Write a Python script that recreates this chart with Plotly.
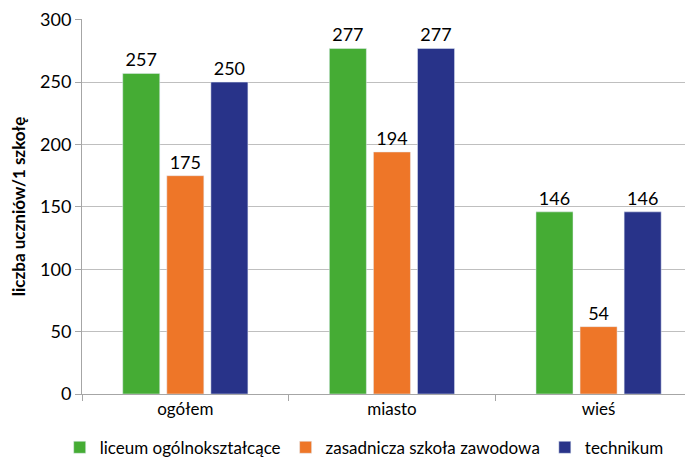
import plotly.graph_objects as go

categories = ["ogółem", "miasto", "wieś"]
liceum = [257, 277, 146]
zasadnicza = [175, 194, 54]
technikum = [250, 277, 146]
series_names = ["liceum ogólnokształcące", "zasadnicza szkoła zawodowa", "technikum"]
colors = ["#45AC34", "#EE7628", "#283389"]

FONT = "Lato, Open Sans, sans-serif"

fig = go.Figure()
for name, vals, col in zip(series_names, [liceum, zasadnicza, technikum], colors):
    fig.add_trace(go.Bar(
        x=categories, y=vals, name=name, marker_color=col,
        text=[str(v) for v in vals], textposition="outside",
        textfont=dict(size=18, color="#000000", family=FONT),
        cliponaxis=False,
    ))

fig.update_layout(
    width=685, height=451,
    margin=dict(l=74, r=0, t=11, b=65, autoexpand=False),
    paper_bgcolor="white", plot_bgcolor="white",
    barmode="group", bargap=0.36, bargroupgap=0.16,
    font=dict(family=FONT, size=17, color="#000000"),
    showlegend=True,
    legend=dict(orientation="h", xref="container", x=0.52, xanchor="center",
                yref="container", y=0.025, yanchor="middle",
                font=dict(size=17, family=FONT), itemwidth=30,
                tracegroupgap=0, traceorder="normal"),
    xaxis=dict(range=[-0.5, 2.457], showline=True, linecolor="#A6A6A6",
               ticks="outside", tickson="boundaries", ticklen=6, tickcolor="#A6A6A6",
               tickfont=dict(size=17, family=FONT), showgrid=False, automargin=False),
    yaxis=dict(range=[0, 300.6], tickvals=[0, 50, 100, 150, 200, 250, 300],
               showline=True, linecolor="#A6A6A6",
               gridcolor="#BFBFBF", gridwidth=1, ticks="outside", ticklen=6,
               tickcolor="#A6A6A6", tickfont=dict(size=18, family=FONT),
               ticklabeloverflow="allow",
               title=dict(text="<b>liczba uczniów/1 szkołę</b>", font=dict(size=17, family=FONT), standoff=12),
               zeroline=False, automargin=False),
)

fig.write_html("out.html")
